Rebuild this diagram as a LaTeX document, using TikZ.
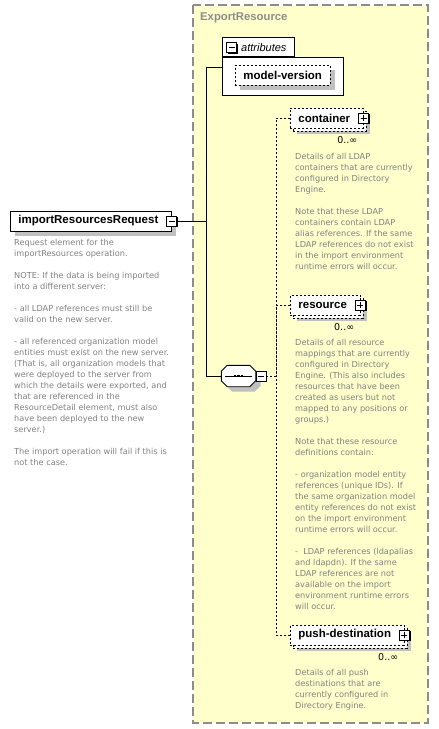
\documentclass[tikz,border=0pt]{standalone}
\usepackage{fontspec}
\setmainfont{DejaVu Sans}
\newfontfamily\namefont{Liberation Sans}
\usetikzlibrary{positioning}
\definecolor{Pane}{HTML}{FFFFCC}
\definecolor{PaneEdge}{HTML}{8C8C8C}
\definecolor{DocText}{HTML}{808080}
\definecolor{DropGray}{HTML}{C0C0C0}

\tikzset{
  namebox/.style={draw,fill=white,line width=.8pt,inner xsep=8pt,inner ysep=0pt,
    minimum height=20pt,anchor=west,font=\namefont\bfseries\fontsize{11.5}{13}\selectfont},
  optbox/.style={namebox,dash pattern=on 2pt off 2pt},
  shadebox/.style={draw=none,fill=DropGray},
  toggle/.style={draw,fill=white,line width=.8pt,minimum size=10pt,inner sep=0pt},
  toggleshade/.style={toggle,draw=none,fill=black,xshift=1.4pt,yshift=-1.4pt},
  minusbox/.style={toggle,path picture={\draw[line width=.8pt]
    ([xshift=2pt]path picture bounding box.west) -- ([xshift=-2pt]path picture bounding box.east);}},
  plusbox/.style={toggle,path picture={\draw[line width=.8pt]
    ([xshift=2pt]path picture bounding box.west) -- ([xshift=-2pt]path picture bounding box.east)
    ([yshift=-2pt]path picture bounding box.north) -- ([yshift=2pt]path picture bounding box.south);}},
  seqbox/.style={inner sep=0pt,minimum width=34pt,minimum height=21pt},
  doc/.style={anchor=north west,inner sep=0pt,align=left,text=DocText,font=\fontsize{8.2}{11}\selectfont},
  card/.style={anchor=north east,inner sep=0pt,font=\fontsize{9.5}{11}\selectfont},
  link/.style={line width=.8pt},
  optlink/.style={line width=.8pt,dash pattern=on 2pt off 2pt}
}

\begin{document}
\begin{tikzpicture}[x=1pt,y=-1pt]
  \useasboundingbox (0,0) rectangle (439,729);

  % complex type pane
  \draw[draw=PaneEdge,fill=Pane,line width=1.5pt,dash pattern=on 9pt off 4pt] (193,5) rectangle (428,723);
  \node[anchor=west,inner sep=0pt,text=PaneEdge,font=\namefont\bfseries\fontsize{11.3}{13}\selectfont]
    (typename) at (200,18) {ExportResource};

  % root element
  \node[namebox,shadebox,xshift=5pt,yshift=-5pt] (requestshade) at (10,221) {\phantom{importResourcesRequest\hspace*{5pt}}};
  \node[namebox] (request) at (10,221) {importResourcesRequest\hspace*{5pt}};
  \node[toggleshade] (requestminshade) at (request.east) {};
  \node[minusbox] (requestmin) at (request.east) {};
  \node[doc] (requestdoc) at (14,239) {Request element for the\\
    importResources operation.\\[11pt]
    NOTE: If the data is being imported\\
    into a different server:\\[11pt]
    - all LDAP references must still be\\
    valid on the new server.\\[11pt]
    - all referenced organization model\\
    entities must exist on the new server.\\
    (That is, all organization models that\\
    were deployed to the server from\\
    which the details were exported, and\\
    that are referenced in the\\
    ResourceDetail element, must also\\
    have been deployed to the new\\
    server.)\\[11pt]
    The import operation will fail if this is\\
    not the case.};

  % attributes
  \node[draw,fill=white,line width=.8pt,minimum width=121pt,minimum height=38pt,inner sep=0pt,
    anchor=north west] (attrs) at (222,57) {};
  \node[draw,fill=white,line width=.8pt,minimum width=72pt,minimum height=19pt,inner sep=0pt,
    anchor=south west] (attrtab) at (222,57) {};
  \node[toggleshade] (attrminshade) at (231.5,47.5) {};
  \node[minusbox] (attrmin) at (231.5,47.5) {};
  \node[anchor=west,inner sep=0pt,font=\namefont\itshape\fontsize{11}{12}\selectfont]
    (attrlabel) at (241,47.5) {attributes};
  \node[optbox,shadebox,xshift=5pt,yshift=-5pt] (versionshade) at (235,75) {\phantom{model-version}};
  \node[optbox] (version) at (235,75) {model-version};

  % sequence
  \node[seqbox] (seq) at (238.5,376) {};
  \fill[DropGray] ([shift={(11,5)}]seq.north west) -- ([shift={(-1,5)}]seq.north east)
    -- ([shift={(5,11)}]seq.north east) -- ([shift={(5,-1)}]seq.south east) -- ([shift={(-1,5)}]seq.south east)
    -- ([shift={(11,5)}]seq.south west) -- ([shift={(5,-1)}]seq.south west) -- ([shift={(5,11)}]seq.north west) -- cycle;
  \draw[line width=.9pt,fill=white] ([xshift=6pt]seq.north west) -- ([xshift=-6pt]seq.north east)
    -- ([yshift=-6pt]seq.north east) -- ([yshift=6pt]seq.south east) -- ([xshift=-6pt]seq.south east)
    -- ([xshift=6pt]seq.south west) -- ([yshift=6pt]seq.south west) -- ([yshift=-6pt]seq.north west) -- cycle;
  \node[toggleshade] (seqminshade) at (261,376) {};
  \node[minusbox] (seqmin) at (261,376) {};
  \draw[line width=.8pt] ([xshift=4pt]seq.west) -- ([xshift=-4pt]seq.east);
  \foreach \dx in {-3.5,0,3.5}
    \fill ([xshift=\dx pt]seq.center) ++(-1.4,-1.4) rectangle ++(2.8,2.8);

  % children
  \node[optbox,shadebox,xshift=7pt,yshift=-6pt] (containershade) at (290,118) {\phantom{container\hspace*{5pt}}};
  \node[optbox,xshift=3pt,yshift=-3pt] (containerback) at (290,118) {\phantom{container\hspace*{5pt}}};
  \node[optbox] (container) at (290,118) {container\hspace*{5pt}};
  \node[toggleshade] (containerplusshade) at (container.east) {};
  \node[plusbox] (containerplus) at (container.east) {};
  \node[card] (containerocc) at ([xshift=-6pt,yshift=-8pt]container.south east) {0..∞};
  \node[doc] (containerdoc) at (295,153) {Details of all LDAP\\
    containers that are currently\\
    configured in Directory\\
    Engine.\\[11pt]
    Note that these LDAP\\
    containers contain LDAP\\
    alias references. If the same\\
    LDAP references do not exist\\
    in the import environment\\
    runtime errors will occur.};

  \node[optbox,shadebox,xshift=7pt,yshift=-6pt] (resourceshade) at (290,305) {\phantom{resource\hspace*{5pt}}};
  \node[optbox,xshift=3pt,yshift=-3pt] (resourceback) at (290,305) {\phantom{resource\hspace*{5pt}}};
  \node[optbox] (resource) at (290,305) {resource\hspace*{5pt}};
  \node[toggleshade] (resourceplusshade) at (resource.east) {};
  \node[plusbox] (resourceplus) at (resource.east) {};
  \node[card] (resourceocc) at ([xshift=-6pt,yshift=-8pt]resource.south east) {0..∞};
  \node[doc] (resourcedoc) at (295,339) {Details of all resource\\
    mappings that are currently\\
    configured in Directory\\
    Engine. (This also includes\\
    resources that have been\\
    created as users but not\\
    mapped to any positions or\\
    groups.)\\[11pt]
    Note that these resource\\
    definitions contain:\\[11pt]
    - organization model entity\\
    references (unique IDs). If\\
    the same organization model\\
    entity references do not exist\\
    on the import environment\\
    runtime errors will occur.\\[11pt]
    -~ LDAP references (ldapalias\\
    and ldapdn). If the same\\
    LDAP references are not\\
    available on the import\\
    environment runtime errors\\
    will occur.};

  \node[optbox,shadebox,xshift=7pt,yshift=-6pt] (pushshade) at (290,635) {\phantom{push-destination\hspace*{5pt}}};
  \node[optbox,xshift=3pt,yshift=-3pt] (pushback) at (290,635) {\phantom{push-destination\hspace*{5pt}}};
  \node[optbox] (push) at (290,635) {push-destination\hspace*{5pt}};
  \node[toggleshade] (pushplusshade) at (push.east) {};
  \node[plusbox] (pushplus) at (push.east) {};
  \node[card] (pushocc) at ([xshift=-6pt,yshift=-8pt]push.south east) {0..∞};
  \node[doc] (pushdoc) at (295,669) {Details of all push\\
    destinations that are\\
    currently configured in\\
    Directory Engine.};

  % connectors
  \coordinate (trunk) at (206,376);
  \coordinate (spine) at (276,376);
  \draw[link] (requestmin.east) -- (requestmin.east -| trunk);
  \draw[link] ([yshift=-10pt]attrs.north west) -| (trunk) -- (seq.west);
  \draw[optlink] (seqmin.east) -- (spine);
  \draw[optlink] (container.west) -| (spine);
  \draw[optlink] (resource.west) -| (spine);
  \draw[optlink] (push.west) -| (spine);
\end{tikzpicture}
\end{document}
